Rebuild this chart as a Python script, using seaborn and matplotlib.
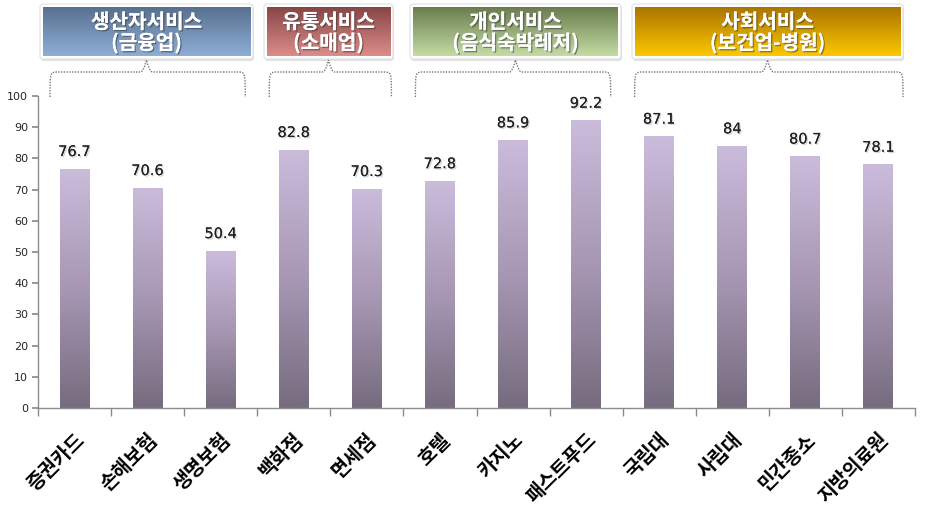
import numpy as np
import pandas as pd
import matplotlib
matplotlib.use("Agg")
import matplotlib.pyplot as plt
import seaborn as sns
from matplotlib.patches import FancyBboxPatch, PathPatch
from matplotlib.path import Path
from matplotlib.colors import LinearSegmentedColormap
import matplotlib.patheffects as pe

categories = ["증권카드", "손해보험", "생명보험", "백화점", "면세점", "호텔", "카지노",
              "패스트푸드", "국립대", "사립대", "민간종소", "지방의료원"]
values = [76.7, 70.6, 50.4, 82.8, 70.3, 72.8, 85.9, 92.2, 87.1, 84, 80.7, 78.1]
value_labels = ["76.7", "70.6", "50.4", "82.8", "70.3", "72.8", "85.9", "92.2", "87.1", "84", "80.7", "78.1"]
group_titles = ["생산자서비스\n(금융업)", "유통서비스\n(소매업)", "개인서비스\n(음식숙박레저)", "사회서비스\n(보건업-병원)"]
group_spans = [(0, 2), (3, 4), (5, 7), (8, 11)]
y_ticks = [0, 10, 20, 30, 40, 50, 60, 70, 80, 90, 100]

sns.set_theme(style="white")
plt.rcParams['font.family'] = ['Noto Sans CJK KR', 'DejaVu Sans']

W, H = 930, 520
fig = plt.figure(figsize=(W / 100, H / 100), dpi=100)
ax_l, ax_r, ax_t, ax_b = 38, 915, 96, 408
ax = fig.add_axes([ax_l / W, 1 - ax_b / H, (ax_r - ax_l) / W, (ax_b - ax_t) / H])

df = pd.DataFrame({"cat": categories, "val": values})
sns.barplot(data=df, x="cat", y="val", ax=ax, width=0.41, color="#a898b0", saturation=1)
ax.set_ylim(0, 100)
ax.set_xlim(-0.5, len(categories) - 0.5)
ax.set_yticks(y_ticks)
ax.set_yticklabels([str(t) for t in y_ticks], fontsize=8, family=['DejaVu Sans'])
ax.set_xlabel("")
ax.set_ylabel("")
for s in ["top", "right"]:
    ax.spines[s].set_visible(False)
for s in ["left", "bottom"]:
    ax.spines[s].set_color("#8c8c8c")
    ax.spines[s].set_linewidth(1)
ax.tick_params(axis="y", which="major", left=True, length=4, color="#8c8c8c", pad=3)
ax.set_xticks(range(len(categories)))
ax.set_xticklabels(categories, rotation=45, ha="right", rotation_mode="anchor",
                   fontsize=14, fontweight="bold", color="black")
ax.tick_params(axis="x", which="major", length=0, pad=16)
ax.set_xticks(np.arange(-0.5, len(categories), 1), minor=True)
ax.tick_params(axis="x", which="minor", bottom=True, length=6, color="#8c8c8c")

# gradient bars
bar_cmap = LinearSegmentedColormap.from_list("barg", ["#766c7e", "#a797b4", "#cbbcdc"])
grad = np.linspace(0, 1, 256).reshape(-1, 1)
for p, v, lab in zip(ax.patches, values, value_labels):
    x0, w = p.get_x(), p.get_width()
    p.set_facecolor("none")
    p.set_edgecolor("none")
    im = ax.imshow(grad, cmap=bar_cmap, origin="lower", aspect="auto",
                   extent=[x0, x0 + w, 0, v], vmin=0, vmax=1, zorder=2)
    im.set_clip_path(p)
    ax.text(x0 + w / 2, v + 5.5, lab, ha="center", va="center", fontsize=10.5,
            family=['DejaVu Sans'], color="#222222", zorder=5,
            path_effects=[pe.withSimplePatchShadow(offset=(1, -1), shadow_rgbFace="#bbbbbb", alpha=0.6), pe.Normal()])
ax.set_xlim(-0.5, len(categories) - 0.5)
ax.set_ylim(0, 100)

# overlay in pixel coords
ov = fig.add_axes([0, 0, 1, 1], zorder=10)
ov.set_xlim(0, W)
ov.set_ylim(H, 0)
ov.axis("off")
ov.patch.set_alpha(0)

box_px = [(43, 250), (267, 390), (413, 618), (635, 900)]
box_cols = [("#58708f", "#8eaed6"), ("#864646", "#dc8d8a"), ("#6b7d4e", "#c4dca4"), ("#ab7400", "#fcc800")]
by0, by1 = 7, 56
cat_w = (ax_r - ax_l) / len(categories)
for (x0, x1), (ct, cb), title, (g0, g1) in zip(box_px, box_cols, group_titles, group_spans):
    ov.add_patch(FancyBboxPatch((x0 - 2, by0 - 1), x1 - x0 + 6, by1 - by0 + 6,
                                boxstyle="round,pad=0,rounding_size=3", fc="#cccccc", ec="none", alpha=0.6, zorder=1))
    ov.add_patch(FancyBboxPatch((x0 - 3, by0 - 3), x1 - x0 + 6, by1 - by0 + 6,
                                boxstyle="round,pad=0,rounding_size=3", fc="white", ec="#e0e0e0", lw=0.8, zorder=2))
    cm = LinearSegmentedColormap.from_list("b", [ct, cb])
    ov.imshow(grad, cmap=cm, origin="upper", aspect="auto", extent=[x0, x1, by1, by0], zorder=3)
    ov.text((x0 + x1) / 2, (by0 + by1) / 2 + 1, title, ha="center", va="center", fontsize=14.5,
            fontweight="bold", color="white", linespacing=0.98, zorder=4,
            path_effects=[pe.withSimplePatchShadow(offset=(1, -1), shadow_rgbFace="#333333", alpha=0.5), pe.Normal()])
    bx0 = ax_l + g0 * cat_w + 12
    bx1 = ax_l + (g1 + 1) * cat_w - 12
    cx = (x0 + x1) / 2
    ytop, ybot, ypk = 72, 97, 60
    verts = [(bx0, ybot), (bx0, ytop), (bx0, ytop), (bx0 + 8, ytop),
             (cx - 6, ytop), (cx - 3, ytop), (cx, ypk),
             (cx + 3, ytop), (cx + 6, ytop),
             (bx1 - 8, ytop), (bx1, ytop), (bx1, ytop), (bx1, ybot)]
    codes = [Path.MOVETO, Path.CURVE4, Path.CURVE4, Path.CURVE4,
             Path.LINETO, Path.CURVE3, Path.CURVE3,
             Path.CURVE3, Path.CURVE3,
             Path.LINETO, Path.CURVE4, Path.CURVE4, Path.CURVE4]
    ov.add_patch(PathPatch(Path(verts, codes), fc="none", ec="#777777", lw=1.0, ls=(0, (1, 1)), zorder=2))

fig.savefig("out.png", dpi=100)
